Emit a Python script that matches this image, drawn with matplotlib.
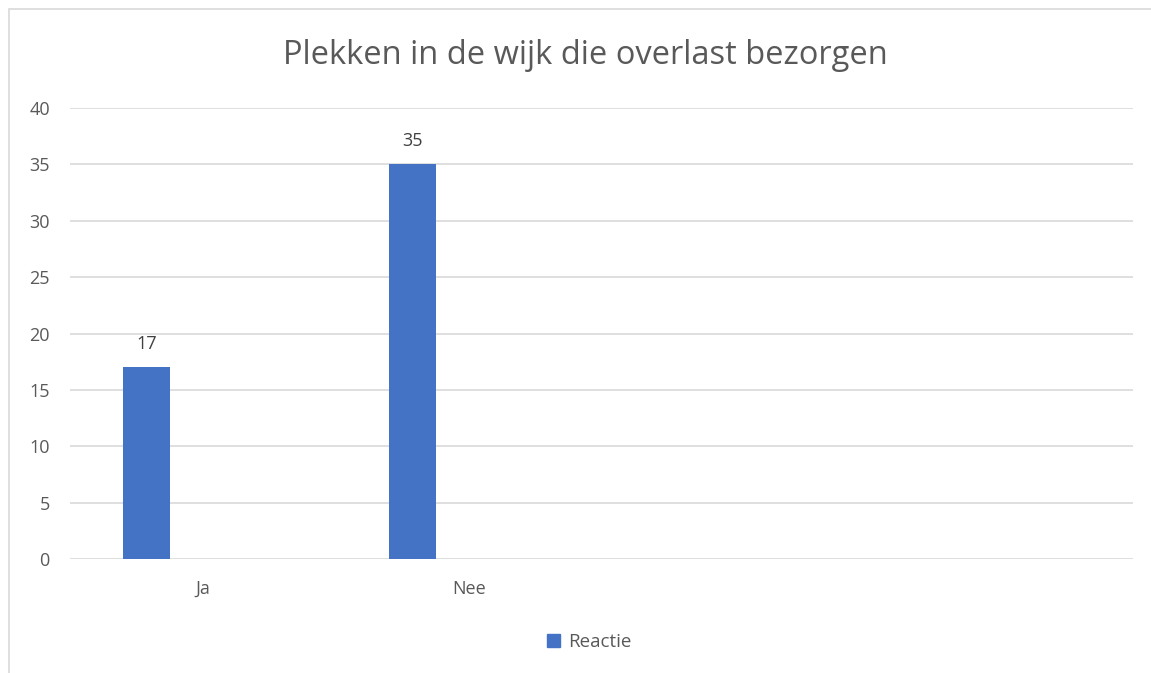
import matplotlib
matplotlib.use("Agg")
import matplotlib.pyplot as plt
from matplotlib.patches import Rectangle, Patch

categories = ["Ja", "Nee", "", ""]
reactie = [17, 35, None, None]
y_ticks = [0, 5, 10, 15, 20, 25, 30, 35, 40]

BAR_COLOR = "#4472C4"
TEXT_COLOR = "#595959"
GRID_COLOR = "#D9D9D9"

plt.rcParams["font.family"] = ["Open Sans", "DejaVu Sans"]

fig = plt.figure(figsize=(11.51, 6.73), dpi=100)
ax = fig.add_axes([70 / 1151, 1 - 559 / 673, (1133 - 70) / 1151, (559 - 108) / 673])

# chart border (cut off at right and bottom like the screenshot)
fig.patches.append(Rectangle((9 / 1151, -0.1), 1.2, 1 - 9 / 673 + 0.1, transform=fig.transFigure,
                             fill=False, edgecolor="#D9D9D9", linewidth=1.2))

xs = [i for i, v in enumerate(reactie) if v is not None]
vals = [v for v in reactie if v is not None]
bars = ax.bar([x - 0.212 for x in xs], vals, width=0.177, color=BAR_COLOR, zorder=3)
for b, v in zip(bars, vals):
    ax.text(b.get_x() + b.get_width() / 2, v + 1.3, str(v), ha="center", va="bottom",
            fontsize=13, color="#404040")

ax.set_xlim(-0.5, len(categories) - 0.5)
ax.set_ylim(0, 40)
ax.set_yticks(y_ticks)
ax.set_xticks(range(len(categories)))
ax.set_xticklabels(categories)
ax.tick_params(axis="both", length=0, labelsize=13, labelcolor=TEXT_COLOR)
ax.tick_params(axis="y", pad=14.5)
ax.tick_params(axis="x", pad=15)
ax.grid(axis="y", color=GRID_COLOR, linewidth=1.2, zorder=0)
for s in ax.spines.values():
    s.set_visible(False)

fig.text(585 / 1151, 1 - 55 / 673, "Plekken in de wijk die overlast bezorgen", ha="center", va="center",
         fontsize=23.5, color=TEXT_COLOR)

fig.legend(handles=[Patch(color=BAR_COLOR, label="Reactie")], loc="center",
           bbox_to_anchor=(589 / 1151, 1 - 642 / 673), frameon=False, fontsize=13.5,
           labelcolor=TEXT_COLOR, handlelength=0.7, handleheight=0.7, handletextpad=0.4)

fig.savefig("out.png", dpi=100)
